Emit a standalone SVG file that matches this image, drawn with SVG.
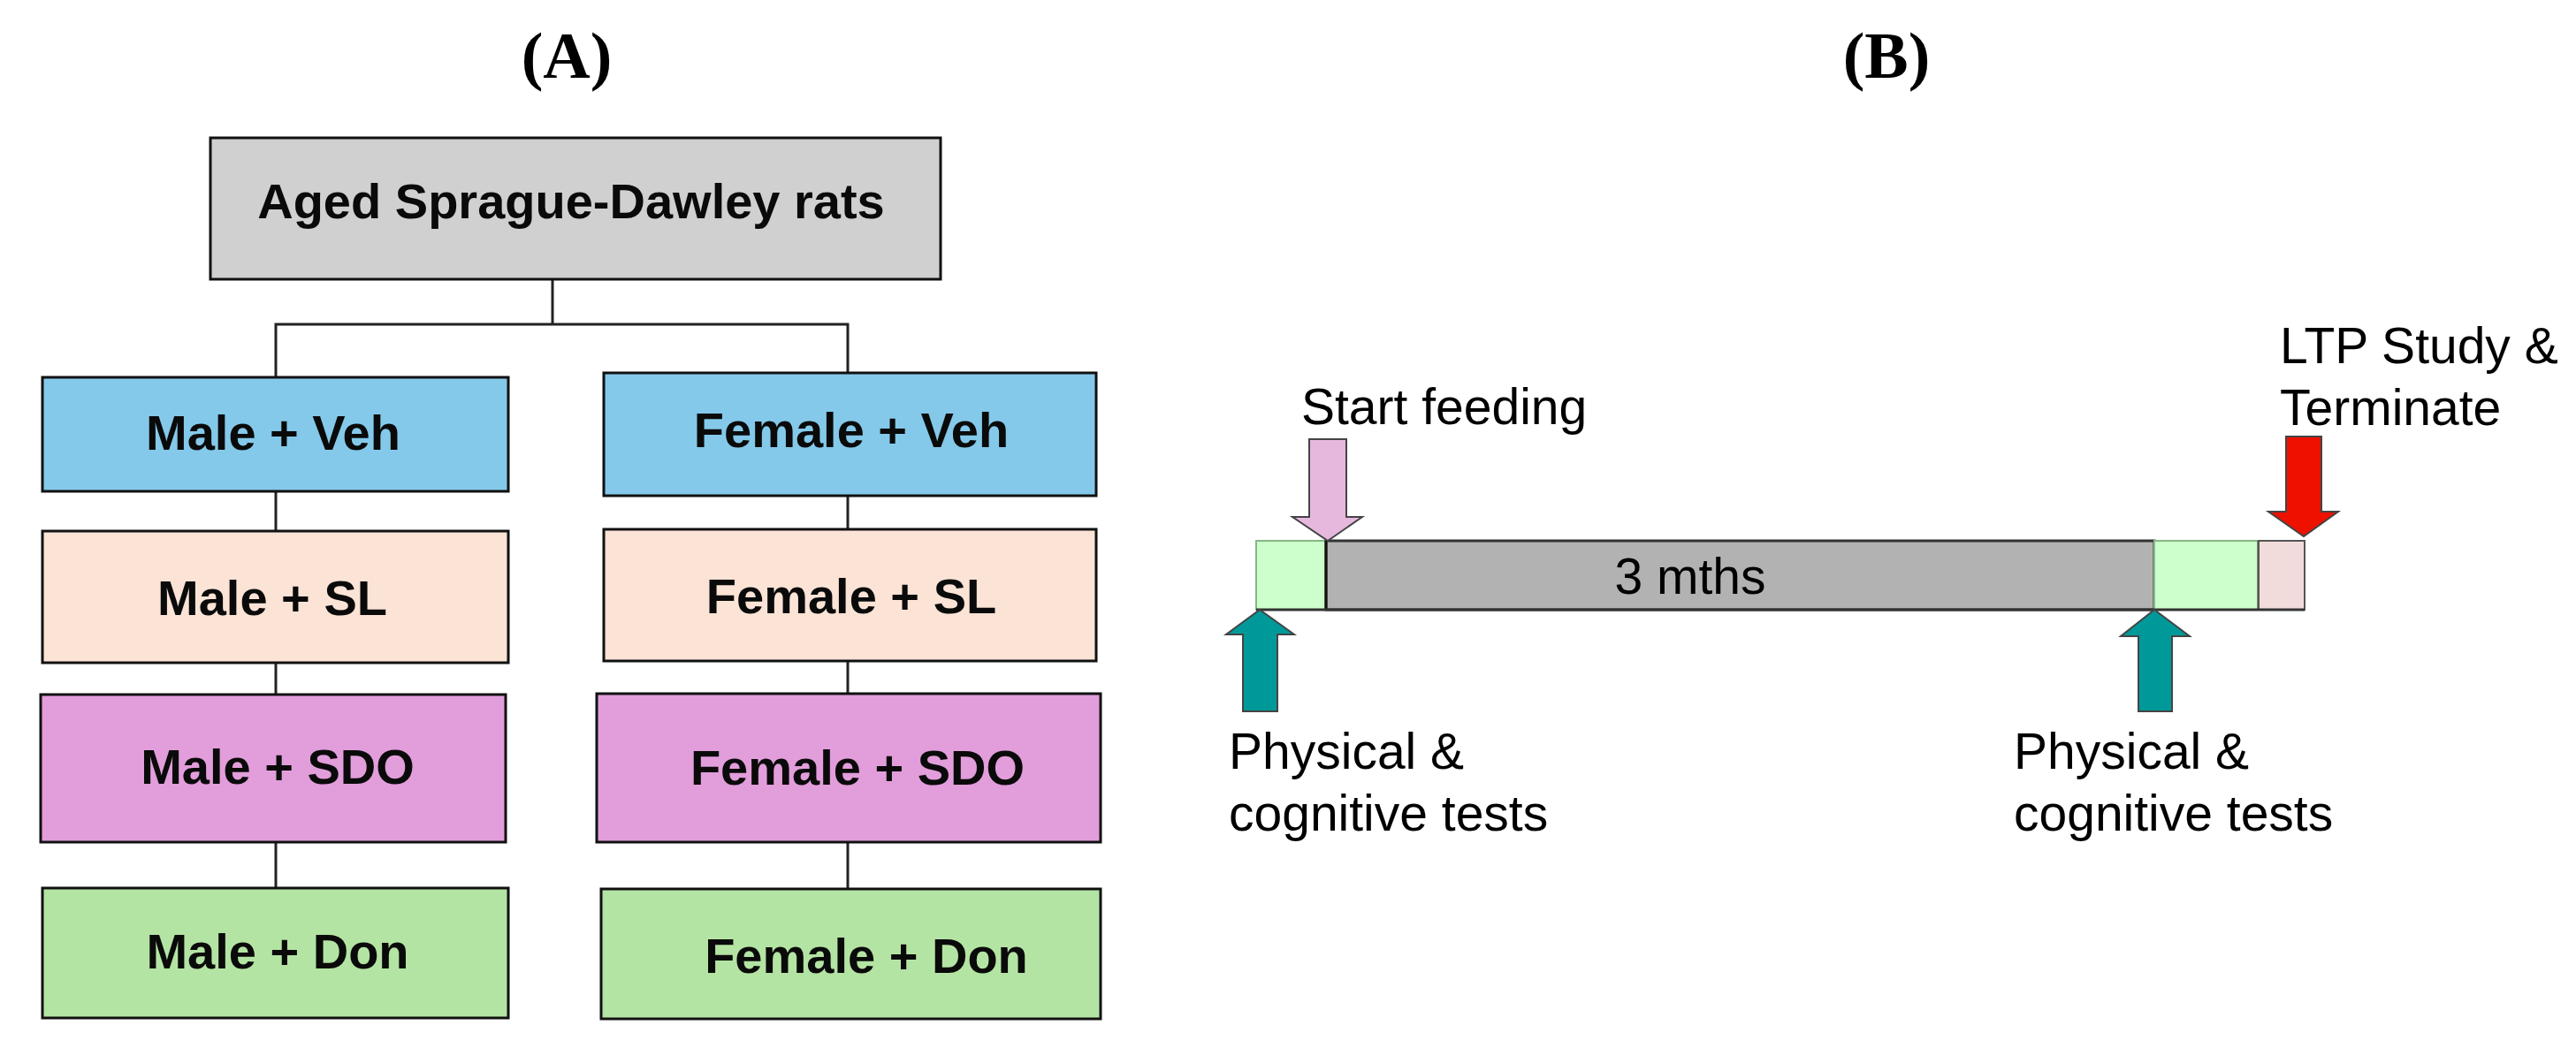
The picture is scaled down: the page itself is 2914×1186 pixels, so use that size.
<svg xmlns="http://www.w3.org/2000/svg" width="2914" height="1186" viewBox="0 0 2914 1186">
<style>
.lbl{font-family:"Liberation Serif","Times New Roman",serif;font-weight:bold;font-size:74px;text-anchor:middle;fill:#000}
.box{stroke:#111;stroke-width:3}
.nt{font-family:"Liberation Sans",Arial,sans-serif;font-weight:bold;font-size:56px;text-anchor:middle;fill:#0a0a0a}
.bt{font-family:"Liberation Sans",Arial,sans-serif;font-size:57px;fill:#000}
.conn{stroke:#222;stroke-width:3;fill:none}
.veh{fill:#84c9ea}.sl{fill:#fbe3d6}.sdo{fill:#e29ddb}.don{fill:#b4e4a3}.top{fill:#d0d0d0}
.arr{stroke:#444;stroke-width:2;stroke-linejoin:miter}
</style>
<rect width="2914" height="1186" fill="#fff"/>
<text class="lbl" x="641" y="88">(A)</text>
<text class="lbl" x="2134" y="88">(B)</text>

<g id="connectors">
<polyline class="conn" points="625,316 625,367"/>
<polyline class="conn" points="312,427 312,367 959,367 959,422"/>
<line class="conn" x1="312" y1="556" x2="312" y2="601"/>
<line class="conn" x1="312" y1="750" x2="312" y2="786"/>
<line class="conn" x1="312" y1="953" x2="312" y2="1005"/>
<line class="conn" x1="959" y1="561" x2="959" y2="599"/>
<line class="conn" x1="959" y1="748" x2="959" y2="785"/>
<line class="conn" x1="959" y1="953" x2="959" y2="1006"/>
</g>

<g id="n-root"><rect class="box top" x="238" y="156" width="826" height="160"/><text class="nt" x="646" y="247" font-size="57">Aged Sprague-Dawley rats</text></g>
<g id="n-male-veh"><rect class="box veh" x="48" y="427" width="527" height="129"/><text class="nt" x="309" y="509">Male + Veh</text></g>
<g id="n-male-sl"><rect class="box sl" x="48" y="601" width="527" height="149"/><text class="nt" x="308" y="696">Male + SL</text></g>
<g id="n-male-sdo"><rect class="box sdo" x="46" y="786" width="526" height="167"/><text class="nt" x="314" y="887">Male + SDO</text></g>
<g id="n-male-don"><rect class="box don" x="48" y="1005" width="527" height="147"/><text class="nt" x="314" y="1096">Male + Don</text></g>
<g id="n-female-veh"><rect class="box veh" x="683" y="422" width="557" height="139"/><text class="nt" x="963" y="506">Female + Veh</text></g>
<g id="n-female-sl"><rect class="box sl" x="683" y="599" width="557" height="149"/><text class="nt" x="963" y="694">Female + SL</text></g>
<g id="n-female-sdo"><rect class="box sdo" x="675" y="785" width="570" height="168"/><text class="nt" x="970" y="888">Female + SDO</text></g>
<g id="n-female-don"><rect class="box don" x="680" y="1006" width="565" height="147"/><text class="nt" x="980" y="1101">Female + Don</text></g>

<g id="timeline">
<rect x="1421" y="612" width="79" height="78" fill="#ccffcc" stroke="#86b886" stroke-width="2"/>
<rect x="1500" y="612" width="937" height="78" fill="#b2b2b2" stroke="#333" stroke-width="3"/>
<rect x="2437" y="612" width="118" height="78" fill="#ccffcc" stroke="#86b886" stroke-width="2"/>
<line x1="2555" y1="612" x2="2555" y2="690" stroke="#222" stroke-width="3"/>
<rect x="2555" y="612" width="52" height="78" fill="#f2dcdb" stroke="#555" stroke-width="2"/>
<line x1="1500" y1="612" x2="1500" y2="690" stroke="#111" stroke-width="3"/>
<line x1="1421" y1="690" x2="2607" y2="690" stroke="#333" stroke-width="3"/>
<text class="bt" x="1912" y="672" text-anchor="middle">3 mths</text>
</g>

<g id="arrow-start"><polygon class="arr" fill="#e6b8de" points="1481,497 1523,497 1523,585 1541,585 1502,612 1462,585 1481,585"/></g>
<g id="arrow-ltp"><polygon class="arr" fill="#ee1100" points="2586,494 2626,494 2626,579 2645,579 2606,607 2566,579 2586,579"/></g>
<g id="arrow-test1"><polygon class="arr" fill="#009999" stroke="#666" points="1406,805 1445,805 1445,718 1464,718 1425,690 1387,718 1406,718"/></g>
<g id="arrow-test2"><polygon class="arr" fill="#009999" stroke="#666" points="2419,805 2457,805 2457,720 2477,720 2437,690 2399,720 2419,720"/></g>

<g id="labels-b">
<text class="bt" x="1472" y="480">Start feeding</text>
<text class="bt" x="2579" y="411">LTP Study &amp;</text>
<text class="bt" x="2579" y="481">Terminate</text>
<text class="bt" x="1390" y="870">Physical &amp;</text>
<text class="bt" x="1390" y="940">cognitive tests</text>
<text class="bt" x="2278" y="870">Physical &amp;</text>
<text class="bt" x="2278" y="940">cognitive tests</text>
</g>
</svg>
